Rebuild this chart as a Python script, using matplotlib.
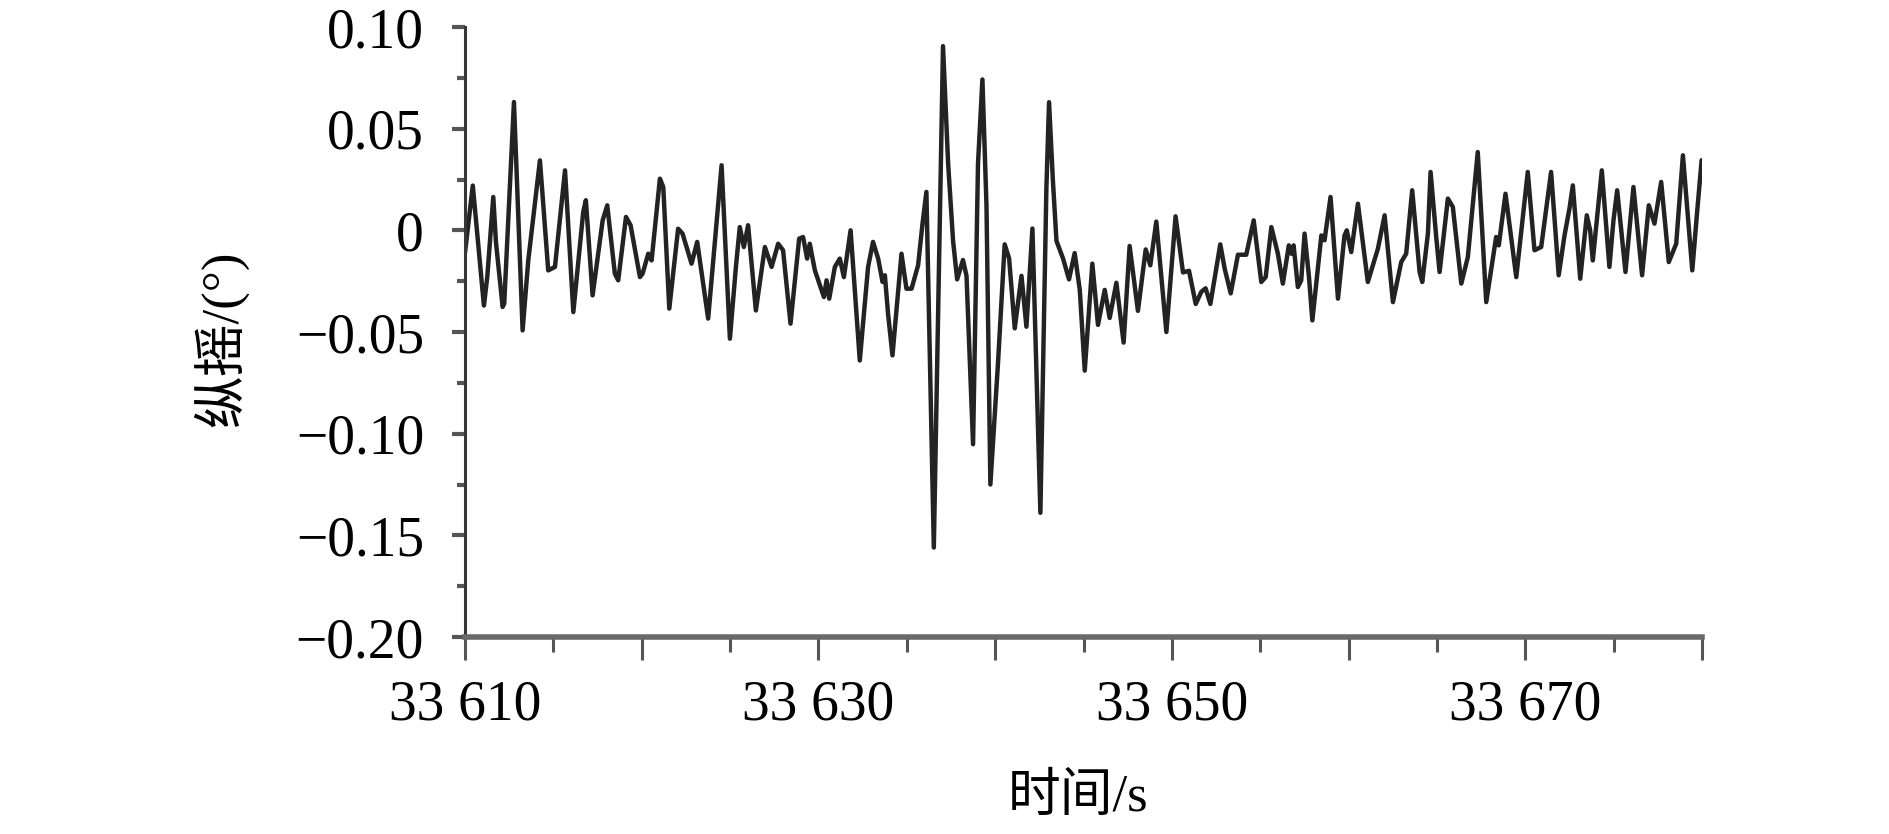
import matplotlib
matplotlib.use('Agg')
import matplotlib.pyplot as plt
from matplotlib.ticker import MultipleLocator, FuncFormatter

plt.rcParams['font.family'] = ['Liberation Serif', 'Noto Sans CJK SC', 'DejaVu Sans']
plt.rcParams['axes.unicode_minus'] = True

# ---- data ----
t_start = 33610  # s
elapsed_s = [
    0.00, 0.44, 1.07, 1.26, 1.60, 1.75, 2.13, 2.22, 2.77, 3.26, 3.58, 4.24, 4.71, 5.09, 5.66,
    6.13, 6.69, 6.84, 7.22, 7.79, 8.05, 8.48, 8.67, 9.11, 9.37, 9.90, 10.05, 10.37, 10.56,
    11.03, 11.22, 11.56, 12.06, 12.31, 12.54, 12.82, 13.14, 13.76, 14.52, 14.99, 15.33,
    15.55, 15.78, 16.02, 16.46, 16.97, 17.35, 17.72, 18.00, 18.42, 18.91, 19.13, 19.36,
    19.51, 19.80, 20.31, 20.46, 20.61, 20.93, 21.21, 21.44, 21.82, 22.34, 22.81, 23.09,
    23.38, 23.63, 23.76, 23.94, 24.19, 24.70, 24.98, 25.27, 25.64, 25.89, 26.11, 26.53,
    27.05, 27.34, 27.62, 27.85, 28.18, 28.38, 28.75, 29.03, 29.28, 29.51, 29.73, 30.16,
    30.54, 30.79, 31.11, 31.49, 31.77, 32.11, 32.56, 32.90, 33.05, 33.27, 33.47, 33.84,
    34.18, 34.50, 34.79, 35.07, 35.50, 35.82, 36.20, 36.48, 36.86, 37.27, 37.61, 38.08,
    38.52, 38.78, 39.12, 39.69, 40.21, 40.63, 40.97, 41.35, 41.67, 41.91, 42.18, 42.74,
    42.99, 43.33, 43.74, 44.21, 44.63, 45.06, 45.31, 45.63, 46.00, 46.28, 46.62, 46.76,
    46.89, 47.13, 47.32, 47.51, 47.76, 47.95, 48.46, 48.64, 48.98, 49.40, 49.77, 49.90,
    50.15, 50.53, 51.09, 51.66, 52.04, 52.51, 52.98, 53.26, 53.60, 54.02, 54.17, 54.49,
    54.64, 54.96, 55.15, 55.62, 55.90, 56.38, 56.75, 57.31, 57.79, 58.35, 58.50, 58.88,
    59.49, 60.14, 60.52, 60.90, 61.46, 61.89, 62.22, 62.50, 62.69, 63.11, 63.48, 63.67,
    63.82, 64.33, 64.76, 64.99, 65.20, 65.67, 66.12, 66.61, 66.99, 67.31, 67.69, 68.12,
    68.54, 68.92, 69.45, 69.70, 69.98,
]
pitch_deg = [
    -0.011, 0.022, -0.037, -0.023, 0.0164, -0.0057, -0.0377, -0.036, 0.0631, -0.0492,
    -0.0148, 0.0344, -0.0197, -0.018, 0.0295, -0.0402, 0.009, 0.0148, -0.032, 0.0049,
    0.0123, -0.0213, -0.0246, 0.0066, 0.0025, -0.023, -0.0213, -0.0115, -0.0148, 0.0254,
    0.0213, -0.0385, 0.0008, -0.0016, -0.0082, -0.0164, -0.0057, -0.0434, 0.032, -0.0533,
    -0.018, 0.0016, -0.0082, 0.0025, -0.0394, -0.0082, -0.018, -0.0066, -0.0098, -0.0459,
    -0.0041, -0.0033, -0.0139, -0.0066, -0.0197, -0.0328, -0.0246, -0.0336, -0.018, -0.0139,
    -0.023, 0.0, -0.064, -0.018, -0.0057, -0.0139, -0.0254, -0.0221, -0.041, -0.0615,
    -0.0115, -0.0287, -0.0287, -0.0172, 0.0033, 0.0189, -0.156, 0.0906, 0.0328, -0.0052,
    -0.0241, -0.0146, -0.0224, -0.1052, 0.0328, 0.0742, 0.0121, -0.125, -0.0655, -0.0069,
    -0.0138, -0.0482, -0.0224, -0.0474, 0.0009, -0.1389, 0.0208, 0.063, 0.0242, -0.0052,
    -0.0138, -0.0241, -0.0112, -0.0293, -0.069, -0.0164, -0.0465, -0.0293, -0.0431, -0.0258,
    -0.0552, -0.0077, -0.0396, -0.0094, -0.0172, 0.0043, -0.05, 0.0069, -0.0207, -0.0199,
    -0.0362, -0.0302, -0.0285, -0.0362, -0.0069, -0.0189, -0.031, -0.012, -0.012, 0.0049,
    -0.0254, -0.023, 0.0016, -0.0115, -0.0262, -0.0074, -0.0115, -0.0074, -0.0279, -0.0246,
    -0.0016, -0.023, -0.0443, -0.0025, -0.0049, 0.0164, -0.0336, -0.0025, 0.0, -0.0107,
    0.0131, -0.0254, -0.009, 0.0074, -0.0353, -0.0156, -0.0115, 0.0197, -0.0205, -0.0254,
    -0.0016, 0.0287, -0.0033, -0.0205, 0.0156, 0.0115, -0.0262, -0.0131, 0.0385, -0.0353,
    -0.0033, -0.0074, 0.018, -0.023, 0.0287, -0.0098, -0.0082, 0.0287, -0.0221, -0.0025,
    0.0107, 0.0221, -0.0238, 0.0074, 0.0, -0.0148, 0.0295, -0.018, 0.0049, 0.0197,
    -0.0205, 0.0213, -0.0221, 0.0123, 0.0033, 0.0238, -0.0156, -0.0066, 0.0369, -0.0197,
    0.0066, 0.0345,
]
y_tick_values = [0.10, 0.05, 0.0, -0.05, -0.10, -0.15, -0.20]
y_tick_labels = ['0.10', '0.05', '0', '\u22120.05', '\u22120.10', '\u22120.15', '\u22120.20']
x_label = '时间/s'
y_label = '纵摇/(°)'

time_s = [t_start + e for e in elapsed_s]

fig = plt.figure(figsize=(18.9, 8.34), dpi=100)
ax = fig.add_axes([465 / 1890, 1 - 637 / 834, (1702 - 465) / 1890, (637 - 27) / 834])

ax.plot(time_s, pitch_deg, color='#232323', lw=3.2, solid_joinstyle='round', solid_capstyle='round')

ax.set_xlim(33610, 33680)
ax.set_ylim(-0.20, 0.10)

for s in ('top', 'right'):
    ax.spines[s].set_visible(False)
ax.spines['left'].set_linewidth(2.2)
ax.spines['left'].set_color('#363636')
ax.spines['bottom'].set_linewidth(4.0)
ax.spines['bottom'].set_color('#6a6a6a')

ax.xaxis.set_major_locator(MultipleLocator(10))
ax.xaxis.set_minor_locator(MultipleLocator(5))


def xfmt(x, pos):
    n = int(round(x))
    if (n - 33610) % 20 != 0:
        return ''
    return f'{n // 1000} {n % 1000:03d}'


ax.xaxis.set_major_formatter(FuncFormatter(xfmt))
ax.set_yticks(y_tick_values)
ax.set_yticklabels(y_tick_labels)
ax.yaxis.set_minor_locator(MultipleLocator(0.025))

ax.tick_params(axis='y', which='major', direction='out', length=9.5, width=3, color='#555555',
               pad=20, labelsize=40, labelcolor='black')
ax.tick_params(axis='y', which='minor', direction='out', length=6, width=3, color='#555555')
ax.tick_params(axis='x', which='major', direction='out', length=16.5, width=2.2, color='#555555',
               pad=14, labelsize=40, labelcolor='black')
ax.tick_params(axis='x', which='minor', direction='out', length=11, width=2.2, color='#555555')

ax.set_xlabel(x_label, fontsize=38)
ax.xaxis.label.set_va('center')
ax.xaxis.set_label_coords(0.496, -0.263)
ax.set_ylabel(y_label, fontsize=38)
ax.yaxis.label.set_va('center')
ax.yaxis.label.set_ha('center')
ax.yaxis.set_label_coords(-0.198, 0.4885)

fig.savefig('out.png', dpi=100)
